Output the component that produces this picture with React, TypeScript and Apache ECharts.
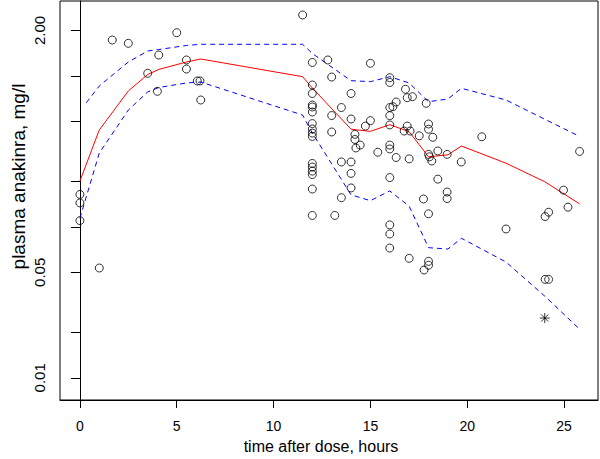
import React, { useEffect, useRef } from "react";
import * as echarts from "echarts";

// observed concentrations (hours, mg/l)
const obsTime = [
  0, 0, 0, 1.0, 1.67, 2.5, 3.5, 4.0, 4.07, 5.0, 5.5, 5.5, 6.06, 6.2, 6.24, 11.5,
  12, 12, 12, 12, 12, 12, 12, 12, 12, 12, 12, 12, 12, 12, 12, 12,
  12.8, 13.0, 13.0, 13.0, 13.16, 13.5, 13.5, 13.5,
  14, 14, 14, 14, 14, 14.2, 14.2, 14.25, 14.47, 14.74, 15.0, 15.0, 15.38,
  16, 16, 16, 16, 16, 16, 16, 16, 16, 16, 16,
  16.16, 16.33, 16.33, 16.74, 16.81, 16.9, 16.9, 17.0, 17.0, 17.05, 17.17, 17.52, 17.74, 17.77, 17.88,
  18, 18, 18, 18, 18, 18, 18.05, 18.17, 18.22, 18.48, 18.48, 18.96, 18.96, 18.96,
  19.69, 20.75, 22.0, 24.02, 24.02, 24.2, 24.2, 24.97, 25.2, 25.8,
];
const obsConc = [
  0.164, 0.144, 0.110, 0.0534, 1.727, 1.643, 1.039, 0.790, 1.374, 1.931, 1.274, 1.110, 0.925, 0.925, 0.692, 2.53,
  1.226, 0.870, 0.764, 0.641, 0.622, 0.576, 0.483, 0.445, 0.418, 0.397, 0.263, 0.249, 0.234, 0.222, 0.178, 0.119,
  1.274, 0.982, 0.546, 0.425, 0.119, 0.617, 0.269, 0.156,
  0.764, 0.518, 0.269, 0.226, 0.181, 0.410, 0.379, 0.333, 0.348, 0.465, 1.211, 0.505, 0.312,
  0.972, 0.904, 0.617, 0.545, 0.473, 0.348, 0.328, 0.212, 0.103, 0.0897, 0.0724,
  0.625, 0.671, 0.288, 0.431, 0.815, 0.717, 0.465, 0.282, 0.0619, 0.431, 0.728, 0.401, 0.153, 0.0518, 0.658,
  0.480, 0.443, 0.302, 0.122, 0.0591, 0.0557, 0.291, 0.273, 0.392, 0.318, 0.207, 0.302, 0.170, 0.154,
  0.269, 0.395, 0.0968, 0.117, 0.0449, 0.125, 0.0449, 0.175, 0.135, 0.316,
];
const flaggedTime = [24.0];
const flaggedConc = [0.0249];

// prediction curves
const curveTime = [0, 1, 2.5, 3.5, 4.07, 5.5, 6.24, 11.5, 12, 14, 15, 16, 17, 18, 19, 19.7, 22, 24, 25.8];
const medianConc = [0.201, 0.438, 0.794, 1.021, 1.102, 1.235, 1.293, 0.987, 0.831, 0.443, 0.429, 0.475, 0.427, 0.291, 0.3, 0.343, 0.264, 0.199, 0.142];
const upperTime = [0.33, 1, 2.5, 3.5, 4.07, 5.5, 6.24, 11.5, 12, 14, 15, 16, 17, 18, 19, 19.7, 22, 24, 25.8];
const upperConc = [0.664, 0.857, 1.235, 1.461, 1.494, 1.589, 1.618, 1.618, 1.406, 0.929, 0.915, 0.987, 0.897, 0.674, 0.703, 0.827, 0.692, 0.516, 0.397];
const lowerConc = [0.114, 0.308, 0.594, 0.782, 0.837, 0.897, 0.91, 0.55, 0.418, 0.163, 0.149, 0.173, 0.137, 0.0728, 0.0713, 0.084, 0.0585, 0.0348, 0.021];

const xTicks = [0, 5, 10, 15, 20, 25];
const yTicks = [2, 1, 0.5, 0.2, 0.1, 0.05, 0.02, 0.01];
const yTickLabels = [2, 0.05, 0.01];

const zip = (a: number[], b: number[]) => a.map((v, i) => [v, b[i]]);

export default function App() {
  const ref = useRef<HTMLDivElement>(null);
  useEffect(() => {
    if (!ref.current) return;
    const chart = echarts.init(ref.current, undefined, { renderer: "svg" });
    const font = "'Liberation Sans', Arial, Helvetica, sans-serif";
    chart.setOption({
      animation: false,
      backgroundColor: "#ffffff",
      textStyle: { fontFamily: font, color: "#000" },
      grid: {
        left: 60,
        right: 2,
        top: 1,
        bottom: 59,
        show: true,
        borderColor: "#000",
        borderWidth: 1,
        containLabel: false,
        outerBoundsMode: "none",
      },
      xAxis: {
        type: "value",
        min: -1.028,
        max: 26.75,
        axisLine: { show: true, onZero: false, lineStyle: { color: "#000", width: 1 } },
        axisTick: { show: true, length: 8, lineStyle: { color: "#000" }, customValues: xTicks },
        axisLabel: { show: true, customValues: xTicks, margin: 19, fontSize: 14, color: "#000", fontFamily: font },
        splitLine: { show: false },
        name: "time after dose, hours",
        nameLocation: "middle",
        nameGap: 38,
        nameMoveOverlap: false,
        nameTextStyle: { fontSize: 16, color: "#000", fontFamily: font, padding: [0, 16, 0, 0] },
      },
      yAxis: {
        type: "log",
        logBase: 10,
        min: 0.007135,
        max: 3.131,
        axisLine: { show: true, lineStyle: { color: "#000", width: 1 } },
        axisTick: { show: true, length: 9, lineStyle: { color: "#000" }, customValues: yTicks },
        axisLabel: {
          show: true,
          customValues: yTickLabels,
          rotate: 90,
          margin: 13,
          fontSize: 15,
          color: "#000",
          fontFamily: font,
          formatter: (v: number) => Number(v).toFixed(2),
        },
        splitLine: { show: false },
        minorTick: { show: false },
        name: "plasma anakinra, mg/l",
        nameLocation: "middle",
        nameGap: 32,
        nameMoveOverlap: false,
        nameTextStyle: { fontSize: 19, color: "#000", fontFamily: font, padding: [0, 0, 0, 48] },
      },
      series: [
        {
          name: "observed",
          type: "scatter",
          data: zip(obsTime, obsConc),
          symbol: "circle",
          symbolSize: 8,
          itemStyle: { color: "rgba(0,0,0,0)", borderColor: "#000", borderWidth: 1 },
          z: 3,
        },
        {
          name: "flagged",
          type: "scatter",
          data: zip(flaggedTime, flaggedConc),
          symbol: "path://M5 0L5 10M0 5L10 5M1.5 1.5L8.5 8.5M8.5 1.5L1.5 8.5",
          symbolSize: 10,
          itemStyle: { color: "rgba(0,0,0,0)", borderColor: "#000", borderWidth: 1 },
          z: 3,
        },
        {
          name: "median",
          type: "line",
          data: zip(curveTime, medianConc),
          symbol: "none",
          showSymbol: false,
          lineStyle: { color: "#ff0000", width: 1 },
          z: 2,
        },
        {
          name: "upper",
          type: "line",
          data: zip(upperTime, upperConc),
          symbol: "none",
          showSymbol: false,
          lineStyle: { color: "#0000ff", width: 1, type: [5, 4] },
          z: 2,
        },
        {
          name: "lower",
          type: "line",
          data: zip(curveTime, lowerConc),
          symbol: "none",
          showSymbol: false,
          lineStyle: { color: "#0000ff", width: 1, type: [5, 4] },
          z: 2,
        },
      ],
    });
    return () => chart.dispose();
  }, []);
  return (
    <div
      ref={ref}
      style={{ position: "absolute", left: 0, top: 0, width: 600, height: 459, background: "#fff" }}
    />
  );
}
